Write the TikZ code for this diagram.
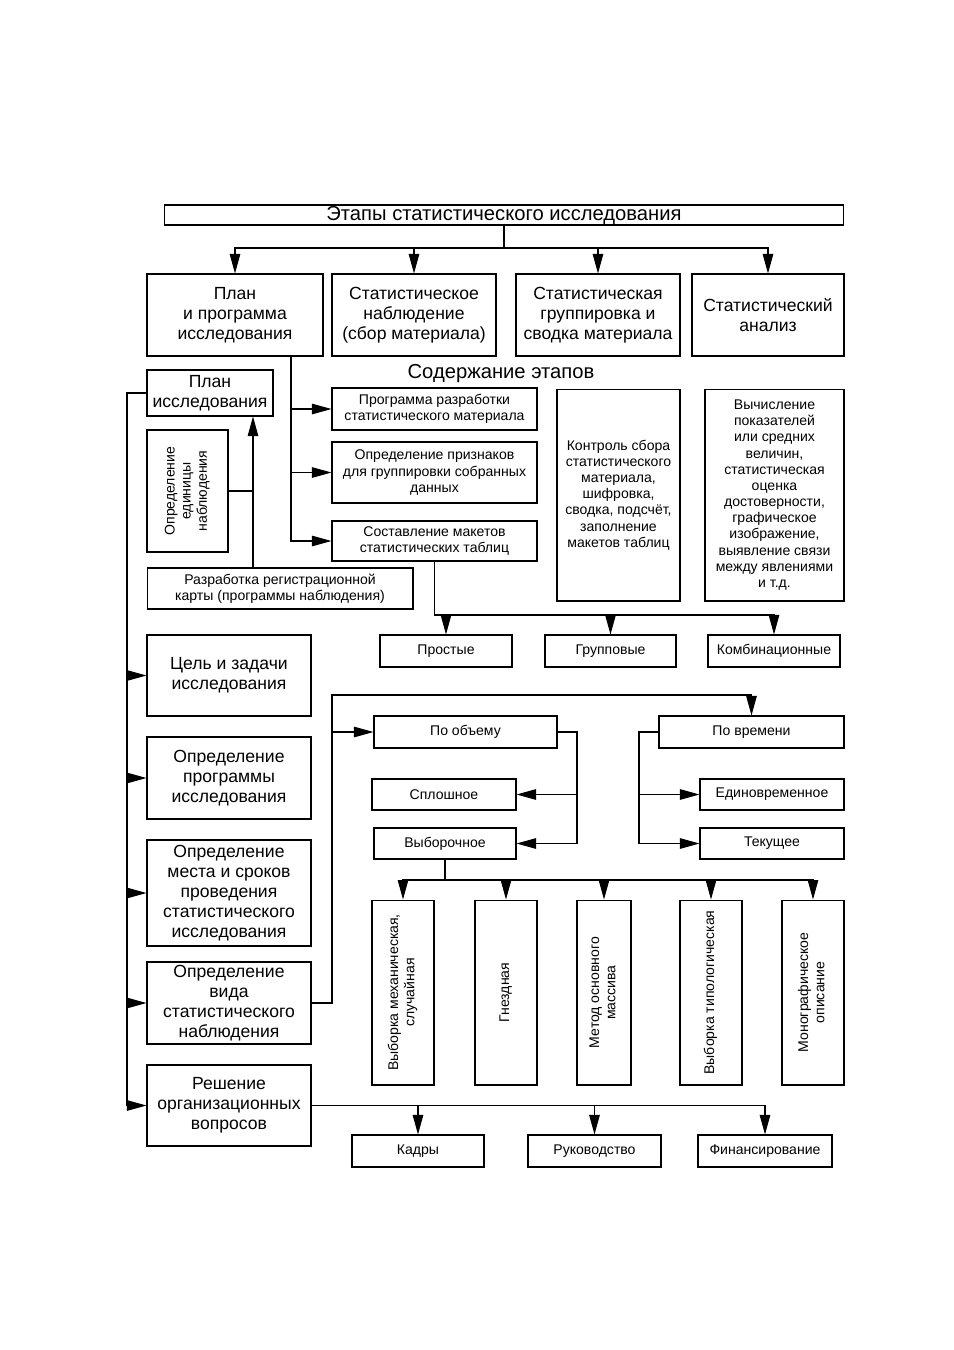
\documentclass[tikz,border=0pt]{standalone}
\usepackage{fontspec}
\setmainfont{Liberation Sans}
\usepackage{graphicx}
\usetikzlibrary{arrows.meta}
\newcommand{\uprot}[1]{\rotatebox{90}{\begin{tabular}{@{}c@{}}#1\end{tabular}}}

\begin{document}
\begin{tikzpicture}[
    x=0.02cm, y=-0.02cm,
    bigbox/.style={
        draw,
        line width=0.6pt,
        inner sep=0pt,
        align=center,
        font=\fontsize{10}{11.4}\selectfont
    },
    smallbox/.style={bigbox, font=\fontsize{8}{9.2}\selectfont},
    link/.style={line width=0.6pt},
    flow/.style={link, -{Triangle[length=3.9mm,width=2.1mm]}}
]
\useasboundingbox (0,0) rectangle (954,1350);

% Title
\node[bigbox, font=\fontsize{11.5}{13}\selectfont, minimum width=136mm,
      minimum height=4mm] (title) at (504,215)
    {Этапы статистического исследования};

% Stages
\node[bigbox, minimum width=35.2mm, minimum height=16.4mm] (plan) at (235,315)
    {План\\и программа\\исследования};
\node[bigbox, minimum width=32.8mm, minimum height=16.4mm] (obs) at (414,315)
    {Статистическое\\наблюдение\\(сбор материала)};
\node[bigbox, minimum width=32.8mm, minimum height=16.4mm] (grp) at (598,315)
    {Статистическая\\группировка и\\сводка материала};
\node[bigbox, minimum width=30.4mm, minimum height=16.4mm] (ana) at (768,315)
    {Статистический\\анализ};

\coordinate (bus) at (504,248);
\draw[link] (title.south) -- (bus);
\draw[flow] (bus) -| (plan.north);
\draw[flow] (bus) -| (obs.north);
\draw[flow] (bus) -| (grp.north);
\draw[flow] (bus) -| (ana.north);

% Contents of the stages
\node[font=\fontsize{11.5}{13}\selectfont] (contents) at (501,374)
    {Содержание этапов};

\node[smallbox, minimum width=41mm, minimum height=8.4mm] (prog) at (434.5,409)
    {Программа разработки\\статистического материала};
\node[smallbox, minimum width=41mm, minimum height=12.2mm] (attr) at (434.5,472.5)
    {Определение признаков\\для группировки собранных\\данных};
\node[smallbox, minimum width=41mm, minimum height=8mm] (make) at (434.5,541)
    {Составление макетов\\статистических таблиц};
\node[smallbox, minimum width=24.6mm, minimum height=42.4mm] (ctrl) at (618.5,495)
    {Контроль сбора\\статистического\\материала,\\шифровка,\\сводка, подсчёт,\\заполнение\\макетов таблиц};
\node[smallbox, minimum width=27.8mm, minimum height=42.4mm] (calc) at (774.5,495)
    {Вычисление\\показателей\\или средних\\величин,\\статистическая\\оценка\\достоверности,\\графическое\\изображение,\\выявление связи\\между явлениями\\и т.д.};

\coordinate (split) at (291,356);
\draw[flow] (split) |- (prog.west);
\draw[flow] (split) |- (attr.west);
\draw[flow] (split) |- (make.west);

% Tables
\node[smallbox, minimum width=26.4mm, minimum height=6.4mm] (simple) at (446,651)
    {Простые};
\node[smallbox, minimum width=26.2mm, minimum height=6.4mm] (group) at (610.5,651)
    {Групповые};
\node[smallbox, minimum width=26.4mm, minimum height=6.4mm] (comb) at (774,651)
    {Комбинационные};

\coordinate (tbus) at (434,615);
\draw[flow] (make.south) -- (make.south |- tbus) -| (simple.north);
\draw[flow] (make.south) -- (make.south |- tbus) -| (group.north);
\draw[flow] (make.south) -- (make.south |- tbus) -| (comb.north);

% Plan of the research
\node[bigbox, minimum width=25.2mm, minimum height=9.2mm] (planres) at (210,393)
    {План\\исследования};
\node[smallbox, minimum width=16.2mm, minimum height=24.4mm] (unit) at (187.5,491)
    {\uprot{Определение\\единицы\\наблюдения}};
\node[smallbox, minimum width=53.2mm, minimum height=8.2mm] (card) at (280,588.5)
    {Разработка регистрационной\\карты (программы наблюдения)};

\coordinate (cardup) at (253,568);
\draw[flow] (cardup) -- (cardup |- planres.south);
\draw[link] (unit.east) -- (unit.east -| cardup);

% Left column
\node[bigbox, minimum width=32.8mm, minimum height=16.2mm] (goal) at (229,675.5)
    {Цель и задачи\\исследования};
\node[bigbox, minimum width=32.8mm, minimum height=16.4mm] (progdef) at (229,778)
    {Определение\\программы\\исследования};
\node[bigbox, minimum width=32.8mm, minimum height=21.2mm] (place) at (229,893)
    {Определение\\места и сроков\\проведения\\статистического\\исследования};
\node[bigbox, minimum width=32.8mm, minimum height=16.4mm] (kind) at (229,1003)
    {Определение\\вида\\статистического\\наблюдения};
\node[bigbox, minimum width=32.8mm, minimum height=16.2mm] (org) at (229,1105.5)
    {Решение\\организационных\\вопросов};

\coordinate (trunk) at (127,393);
\draw[flow] (planres.west) -- (trunk) |- (goal.west);
\draw[flow] (planres.west) -- (trunk) |- (progdef.west);
\draw[flow] (planres.west) -- (trunk) |- (place.west);
\draw[flow] (planres.west) -- (trunk) |- (kind.west);
\draw[flow] (planres.west) -- (trunk) |- (org.west);

% Kinds of observation
\node[smallbox, minimum width=36.6mm, minimum height=6.4mm] (volume) at (465.5,732)
    {По объему};
\node[smallbox, minimum width=37mm, minimum height=6.4mm] (time) at (751.5,732)
    {По времени};
\node[smallbox, minimum width=28.8mm, minimum height=6.2mm] (solid) at (444,794.5)
    {Сплошное};
\node[smallbox, minimum width=28.4mm, minimum height=6.2mm] (sample) at (445,843.5)
    {Выборочное};
\node[smallbox, minimum width=28.8mm, minimum height=6.2mm] (once) at (772,794.5)
    {Единовременное};
\node[smallbox, minimum width=28.8mm, minimum height=6.2mm] (current) at (772,843.5)
    {Текущее};

\coordinate (kbus) at (332,695);
\draw[flow] (kind.east) -| (kbus) -| (time.north);
\draw[flow] (volume.west -| kbus) -- (volume.west);

\coordinate (vbus) at (577,843.5);
\draw[flow] (volume.east) -- (volume.east -| vbus) |- (solid.east);
\draw[flow] (volume.east) -- (volume.east -| vbus) |- (sample.east);

\coordinate (wbus) at (639,843.5);
\draw[flow] (time.west) -- (time.west -| wbus) |- (once.west);
\draw[flow] (time.west) -- (time.west -| wbus) |- (current.west);

% Sampling methods
\node[smallbox, minimum width=12.4mm, minimum height=37mm] (mech) at (403,992.5)
    {\uprot{Выборка механическая,\\случайная}};
\node[smallbox, minimum width=12.4mm, minimum height=37mm] (nest) at (506,992.5)
    {\uprot{Гнездная}};
\node[smallbox, minimum width=10.8mm, minimum height=37mm] (mass) at (604,992.5)
    {\uprot{Метод основного\\массива}};
\node[smallbox, minimum width=12.4mm, minimum height=37mm] (typo) at (711,992.5)
    {\uprot{Выборка типологическая}};
\node[smallbox, minimum width=12.4mm, minimum height=37mm] (mono) at (813,992.5)
    {\uprot{Монографическое\\описание}};

\coordinate (sbus) at (445,880);
\draw[flow] (sample.south) -- (sbus) -| (mech.north);
\draw[flow] (sample.south) -- (sbus) -| (nest.north);
\draw[flow] (sample.south) -- (sbus) -| (mass.north);
\draw[flow] (sample.south) -- (sbus) -| (typo.north);
\draw[flow] (sample.south) -- (sbus) -| (mono.north);

% Organisation
\node[smallbox, minimum width=26.4mm, minimum height=6.4mm] (staff) at (418,1151)
    {Кадры};
\node[smallbox, minimum width=26.6mm, minimum height=6.4mm] (lead) at (594.5,1151)
    {Руководство};
\node[smallbox, minimum width=26.8mm, minimum height=6.4mm] (fin) at (765,1151)
    {Финансирование};

\draw[flow] (org.east) -| (staff.north);
\draw[flow] (org.east) -| (lead.north);
\draw[flow] (org.east) -| (fin.north);

\end{tikzpicture}
\end{document}
